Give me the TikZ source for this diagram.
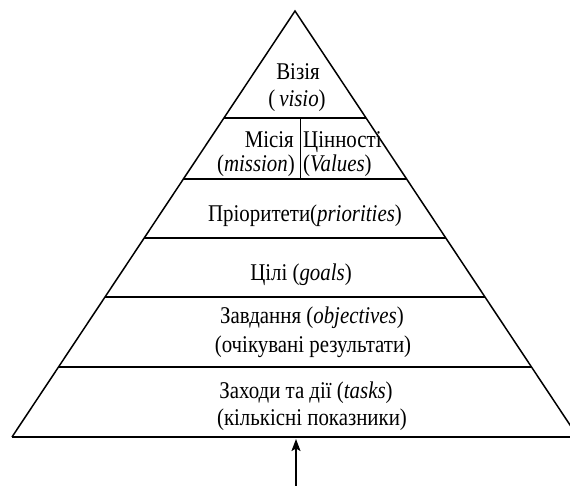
\documentclass[tikz,border=0pt]{standalone}
\usepackage{fontspec}
\setmainfont{Liberation Serif}[FakeStretch=0.87]
\usetikzlibrary{calc,arrows.meta}
\begin{document}
\begin{tikzpicture}[x=1pt,y=-1pt,
  side/.style={line width=1.5pt},
  level/.style={line width=2pt},
  divider/.style={line width=0.8pt},
  lbl/.style={anchor=base,inner sep=0pt,font=\fontsize{24}{28}\selectfont},
  arr/.style={line width=1.5pt,-{Stealth[length=12pt,width=9pt,inset=2.5pt]}}]
\useasboundingbox (0,0) rectangle (570,486);
\clip (0,0) rectangle (570,486);
\coordinate (apex) at (295,11);
\coordinate (bl) at (12,437);
\coordinate (br) at (578,437);
\draw[side,line join=miter] (bl) -- (apex) -- (br);
\draw[level] (bl) -- (br);
\foreach \t/\n in {0.2512/a,0.3944/b,0.5329/c,0.6714/d,0.8357/e}{
  \coordinate (L\n) at ($(apex)!\t!(bl)$);
  \coordinate (R\n) at ($(apex)!\t!(br)$);
  \draw[level] (L\n) -- (R\n);
}
\coordinate (divtop) at (300,118);
\coordinate (divbot) at (300,179);
\draw[divider] (divtop) -- (divbot);
% texts
\node[lbl] (vis1) at (298,80) {Візія};
\node[lbl] (vis2) at (297,107) {(\textit{\,visio})};
\node[lbl,anchor=base east] (mis1) at (294,148) {Місія};
\node[lbl,anchor=base east] (mis2) at (295,172) {(\textit{mission})};
\node[lbl,anchor=base west] (val1) at (303,148) {Цінності};
\node[lbl,anchor=base west] (val2) at (303,172) {(\textit{Values})};
\node[lbl] (pri) at (305,222) {Пріоритети(\textit{priorities})};
\node[lbl] (goal) at (301,280) {Цілі (\textit{goals})};
\node[lbl] (obj1) at (312,323) {Завдання (\textit{objectives})};
\node[lbl] (obj2) at (313,352) {(очікувані результати)};
\node[lbl] (task1) at (306,398) {Заходи та дії (\textit{tasks})};
\node[lbl] (task2) at (312,425) {(кількісні показники)};
\coordinate (basemid) at (296,439);
\coordinate (arrstart) at (296,486);
\draw[arr] (arrstart) -- (basemid);
\end{tikzpicture}
\end{document}
